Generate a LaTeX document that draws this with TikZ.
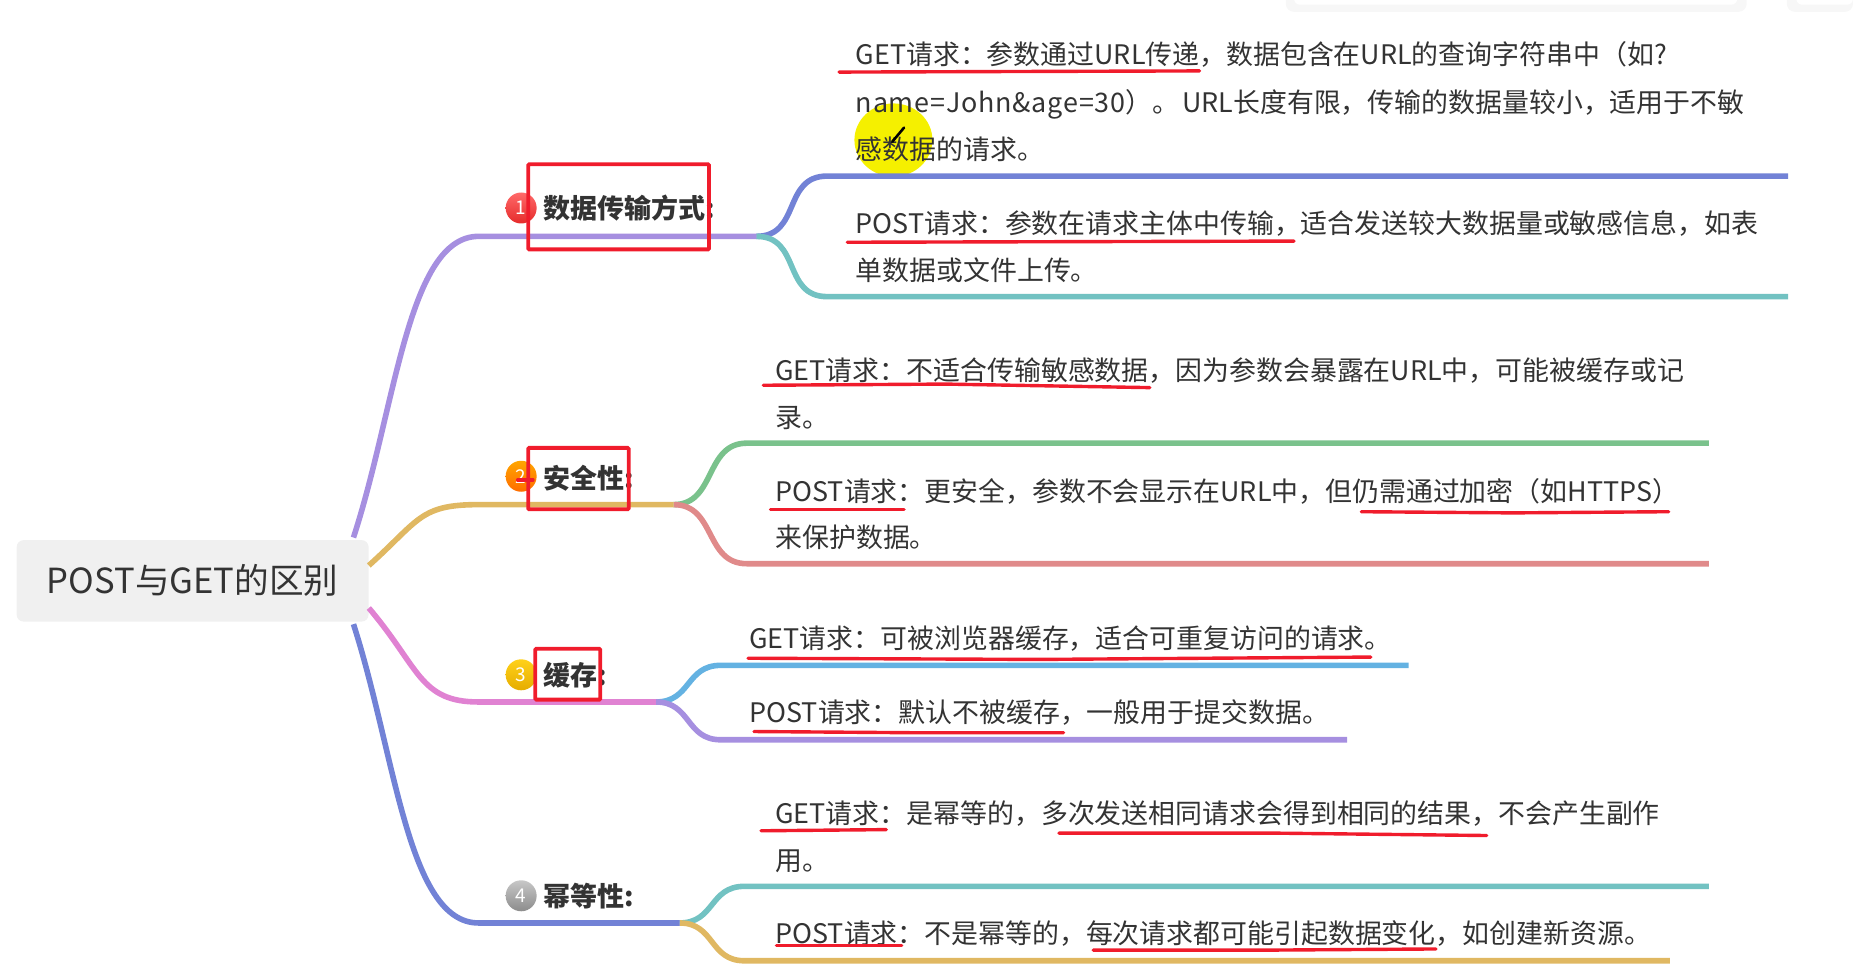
\documentclass[tikz,border=0pt]{standalone}
\usepackage{fontspec}
\setmainfont{Noto Sans CJK SC}
\usetikzlibrary{calc}
\definecolor{cpurple}{HTML}{A68FE0}
\definecolor{cgold}{HTML}{E0B862}
\definecolor{cpink}{HTML}{E082D2}
\definecolor{cblue}{HTML}{7282D6}
\definecolor{cteal}{HTML}{72C2C2}
\definecolor{cgreen}{HTML}{7AC28C}
\definecolor{crose}{HTML}{E08A8A}
\definecolor{csky}{HTML}{64B2E2}
\definecolor{cred}{HTML}{F01C2C}
\definecolor{ctext}{HTML}{333333}
\definecolor{chigh}{HTML}{F5F000}
\tikzset{
  x=1.1818pt,y=-1.1818pt,
  body/.style={anchor=base west,inner sep=0pt,text=ctext,font=\fontsize{26.9}{27}\selectfont},
  head/.style={anchor=base west,inner sep=0pt,text=ctext,font=\fontsize{27}{27}\selectfont\bfseries},
  rootbox/.style={fill=black!6,rounded corners=7pt,inner sep=0pt,minimum width=352pt,minimum height=81.5pt,text=ctext,font=\fontsize{34.6}{35}\selectfont},
  branch/.style={line width=5.6pt,line cap=butt},
  redbox/.style={draw=cred,line width=3.8pt,rounded corners=1pt},
  redline/.style={draw=cred,line width=3.4pt,line cap=round},
  badge/.style={circle,minimum size=31pt,inner sep=0pt,text=white,font=\fontsize{19}{19}\selectfont},
}
\begin{document}
\begin{tikzpicture}
\useasboundingbox (0,0) rectangle (1568,816.55);
% top window fragments
\fill[black!3,rounded corners=8pt] (1088,-8) rectangle (1478,10);
\fill[white,rounded corners=6pt] (1095,-8) rectangle (1470,4);
\fill[black!3,rounded corners=8pt] (1512,-8) rectangle (1568,10);
\fill[white,rounded corners=6pt] (1520,-8) rectangle (1568,4);
% highlight
\fill[chigh] (756,118.5) ellipse (33 and 31);
% root
\node[rootbox] (root) at (163,491.5) {POST与GET的区别};
% junctions
\coordinate (a1) at (405,200); \coordinate (j1) at (640,200);
\coordinate (a2) at (405,427); \coordinate (j2) at (570,427);
\coordinate (a3) at (405,594); \coordinate (j3) at (555,594);
\coordinate (a4) at (405,781); \coordinate (j4) at (575,781);
\coordinate (b1a) at (700,149); \coordinate (e1a) at (1513,149);
\coordinate (b1b) at (700,251); \coordinate (e1b) at (1513,251);
\coordinate (b2a) at (632,375); \coordinate (e2a) at (1446,375);
\coordinate (b2b) at (632,477); \coordinate (e2b) at (1446,477);
\coordinate (b3a) at (610,563); \coordinate (e3a) at (1192,563);
\coordinate (b3b) at (610,626); \coordinate (e3b) at (1140,626);
\coordinate (b4a) at (630,750); \coordinate (e4a) at (1446,750);
\coordinate (b4b) at (630,813); \coordinate (e4b) at (1413,813);
% sub-branches
\draw[branch,cblue] (j1) .. controls (678,200) and (662,149) .. (b1a) -- (e1a);
\draw[branch,cteal] (j1) .. controls (678,200) and (662,251) .. (b1b) -- (e1b);
\draw[branch,cgreen] (j2) .. controls (606,427) and (596,375) .. (b2a) -- (e2a);
\draw[branch,crose] (j2) .. controls (606,427) and (596,477) .. (b2b) -- (e2b);
\draw[branch,csky] (j3) .. controls (585,594) and (580,563) .. (b3a) -- (e3a);
\draw[branch,cpurple] (j3) .. controls (585,594) and (580,626) .. (b3b) -- (e3b);
\draw[branch,cteal] (j4) .. controls (605,781) and (600,750) .. (b4a) -- (e4a);
\draw[branch,cgold] (j4) .. controls (605,781) and (600,813) .. (b4b) -- (e4b);
% main branches
\draw[branch,cpurple] ($(root.north east)+(-13,-2)$) .. controls (335,345) and (345,200) .. (a1) -- (j1);
\draw[branch,cgold] ($(root.east)+(0,-13)$) .. controls (355,440) and (355,427) .. (a2) -- (j2);
\draw[branch,cpink] ($(root.east)+(0,23)$) .. controls (355,565) and (355,594) .. (a3) -- (j3);
\draw[branch,cblue] ($(root.south east)+(-13,2)$) .. controls (335,640) and (345,781) .. (a4) -- (j4);
% badges
\node[badge,top color=red!45!pink,bottom color=red!75!pink!90!black] (n1) at (441,176) {1};
\node[badge,top color=orange!70!yellow,bottom color=orange!85!red] (n2) at (441,403) {2};
\node[badge,top color=yellow!60!orange!90,bottom color=orange!50!yellow!90!black] (n3) at (441,571) {3};
\node[badge,top color=black!22,bottom color=black!45] (n4) at (441,758) {4};
% heads
\node[head] (h1) at (460,185) {数据传输方式:};
\node[head] (h2) at (460,413) {安全性:};
\node[head] (h3) at (460,580) {缓存:};
\node[head] (h4) at (460,767) {幂等性:};
% body text
\node[body] (t1) at (724,55) {GET请求：参数通过URL传递，数据包含在URL的查询字符串中（如?};
\node[body] (t2) at (724,95) {{\addfontfeature{LetterSpace=3}name=John\&age=30}）。\hspace{3pt}URL长度有限，传输的数据量较小，适用于不敏};
\node[body] (t3) at (724,135) {感数据的请求。};
\node[body] (t4) at (724,198) {POST请求：参数在请求主体中传输，适合发送较大数据量或敏感信息，如表};
\node[body] (t5) at (724,237) {单数据或文件上传。};
\node[body] (t6) at (656,322) {GET请求：不适合传输敏感数据，因为参数会暴露在URL中，可能被缓存或记};
\node[body] (t7) at (656,362) {录。};
\node[body] (t8) at (656,424) {POST请求：更安全，参数不会显示在URL中，但仍需通过加密（如HTTPS）};
\node[body] (t9) at (656,463) {来保护数据。};
\node[body] (t10) at (634,549) {GET请求：可被浏览器缓存，适合可重复访问的请求。};
\node[body] (t11) at (634,611) {POST请求：默认不被缓存，一般用于提交数据。};
\node[body] (t12) at (656,697) {GET请求：是幂等的，多次发送相同请求会得到相同的结果，不会产生副作};
\node[body] (t13) at (656,737) {用。};
\node[body] (t14) at (656,798) {POST请求：不是幂等的，每次请求都可能引起数据变化，如创建新资源。};
% pencil
\draw[black,line width=2.6pt,line cap=round] (765,108) -- (755,120);
% red marks
\draw[redbox] (447,139) rectangle (600,211);
\draw[redbox] (447,379) rectangle (532,431);
\draw[redbox] (453,549) rectangle (508,592);
\draw[redline] (438,406) -- (451,406);
\draw[redline] (710,61) -- (860,60.5) -- (1015,60);
\draw[redline] (717,205) -- (900,204.5) -- (1095,204);
\draw[redline] (646,326) -- (800,325) -- (973,328);
\draw[redline] (652,431) -- (765,431);
\draw[redline] (1152,433) -- (1280,434) -- (1412,433);
\draw[redline] (633,557) -- (880,558) -- (1160,556);
\draw[redline] (638,619) -- (770,620) -- (900,620);
\draw[redline] (644,703) -- (750,702);
\draw[redline] (896,705) -- (1080,705) -- (1258,707);
\draw[redline] (657,800) -- (763,800);
\draw[redline] (925,804) -- (1070,804) -- (1215,803);
\end{tikzpicture}
\end{document}
